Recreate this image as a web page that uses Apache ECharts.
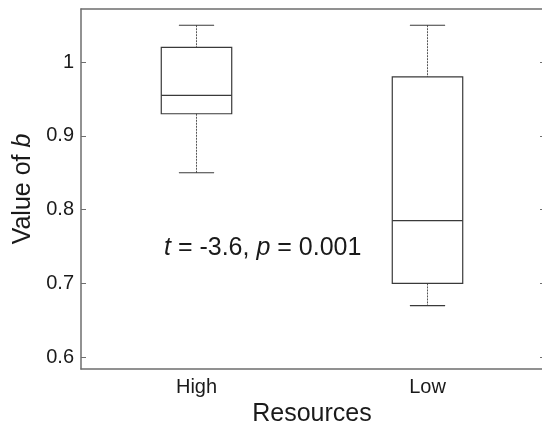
<!DOCTYPE html>
<html>
<head>
<meta charset="utf-8">
<script src="https://cdn.jsdelivr.net/npm/echarts@6/dist/echarts.min.js"></script>
<style>
	html, body { margin: 0; padding: 0; background: #fff; }
	#chart_1 { width: 542px; height: 423px; }
</style>
</head>
<body>
<div id="chart_1"></div>
<script>
var categories = ['High', 'Low'];
var minVals = [0.85, 0.67];
var q1Vals = [0.93, 0.70];
var medVals = [0.955, 0.785];
var q3Vals = [1.02, 0.98];
var maxVals = [1.05, 1.05];
var yTicks = [0.6, 0.7, 0.8, 0.9, 1.0];

(function() {
	var myChart = echarts.init(document.getElementById('chart_1'));
	var boxData = [];
	for (var i = 0; i < categories.length; i++) {
		boxData.push([i, minVals[i], q1Vals[i], medVals[i], q3Vals[i], maxVals[i]]);
	}
	var axisColor = '#6e6e6e';
	var lineColor = '#3a3a3a';
	var font = 'Liberation Sans, Arial, sans-serif';

	function renderBox(params, api) {
		var x = api.value(0);
		var pMin = api.coord([x, api.value(1)]);
		var pQ1 = api.coord([x, api.value(2)]);
		var pMed = api.coord([x, api.value(3)]);
		var pQ3 = api.coord([x, api.value(4)]);
		var pMax = api.coord([x, api.value(5)]);
		var bw = api.size([1, 0])[0] * 0.305;
		var cw = bw / 2;
		var cx = pMed[0];
		var solid = { stroke: lineColor, lineWidth: 1.2, fill: null };
		var dotted = { stroke: '#555', lineWidth: 1, lineDash: [2, 1] };
		return {
			type: 'group',
			children: [
				{ type: 'line', shape: { x1: cx, y1: pMax[1], x2: cx, y2: pQ3[1] }, style: dotted },
				{ type: 'line', shape: { x1: cx, y1: pQ1[1], x2: cx, y2: pMin[1] }, style: dotted },
				{ type: 'line', shape: { x1: cx - cw / 2, y1: pMax[1], x2: cx + cw / 2, y2: pMax[1] }, style: solid },
				{ type: 'line', shape: { x1: cx - cw / 2, y1: pMin[1], x2: cx + cw / 2, y2: pMin[1] }, style: solid },
				{ type: 'rect', shape: { x: cx - bw / 2, y: pQ3[1], width: bw, height: pQ1[1] - pQ3[1] }, style: solid },
				{ type: 'line', shape: { x1: cx - bw / 2, y1: pMed[1], x2: cx + bw / 2, y2: pMed[1] }, style: solid }
			]
		};
	}

	var option = {
		animation: false,
		textStyle: { fontFamily: font },
		grid: {
			left: 81,
			top: 9,
			width: 462,
			bottom: 54,
			outerBoundsMode: 'none',
			containLabel: false
		},
		xAxis: [{
			type: 'category',
			data: categories,
			position: 'bottom',
			axisLine: { lineStyle: { color: axisColor, width: 1.5 } },
			axisTick: { show: false },
			axisLabel: { color: '#1a1a1a', fontSize: 20, margin: 8, fontFamily: font },
			name: 'Resources',
			nameLocation: 'middle',
			nameGap: 23,
			nameTextStyle: { color: '#1a1a1a', fontSize: 25, fontFamily: font }
		}, {
			type: 'category',
			data: categories,
			position: 'top',
			axisLine: { lineStyle: { color: axisColor, width: 1.5 } },
			axisTick: { show: false },
			axisLabel: { show: false }
		}],
		yAxis: [{
			type: 'value',
			min: 0.584,
			max: 1.072,
			position: 'left',
			splitLine: { show: false },
			axisLine: { show: true, lineStyle: { color: axisColor, width: 1.5 } },
			axisTick: { show: true, inside: true, length: 5, customValues: yTicks, lineStyle: { color: axisColor } },
			axisLabel: {
				customValues: yTicks,
				color: '#1a1a1a',
				fontSize: 20,
				margin: 7,
				fontFamily: font,
				formatter: function(v) { return String(Math.round(v * 10) / 10); }
			},
			name: '{a|Value of }{b|b}',
			nameLocation: 'middle',
			nameRotate: 90,
			nameGap: 42,
			nameTextStyle: {
				color: '#1a1a1a',
				fontSize: 25,
				fontFamily: font,
				rich: {
					a: { fontSize: 25, color: '#1a1a1a', fontFamily: font },
					b: { fontSize: 25, color: '#1a1a1a', fontFamily: font, fontStyle: 'italic' }
				}
			}
		}, {
			type: 'value',
			min: 0.584,
			max: 1.072,
			position: 'right',
			splitLine: { show: false },
			axisLine: { show: true, lineStyle: { color: axisColor, width: 1.5 } },
			axisTick: { show: true, inside: true, length: 3, customValues: yTicks, lineStyle: { color: axisColor } },
			axisLabel: { show: false }
		}],
		graphic: [{
			type: 'text',
			left: 164,
			top: 236,
			style: {
				text: '{i|t}{n| = -3.6, }{i|p}{n| = 0.001}',
				rich: {
					i: { fontSize: 25, fill: '#1a1a1a', fontFamily: font, fontStyle: 'italic' },
					n: { fontSize: 25, fill: '#1a1a1a', fontFamily: font }
				}
			}
		}],
		series: [{
			type: 'custom',
			name: 'b',
			renderItem: renderBox,
			encode: { x: 0, y: [1, 2, 3, 4, 5] },
			data: boxData
		}]
	};
	myChart.setOption(option);
	window.addEventListener('resize', function() {
		myChart.resize();
	});
})();
</script>
</body>
</html>
